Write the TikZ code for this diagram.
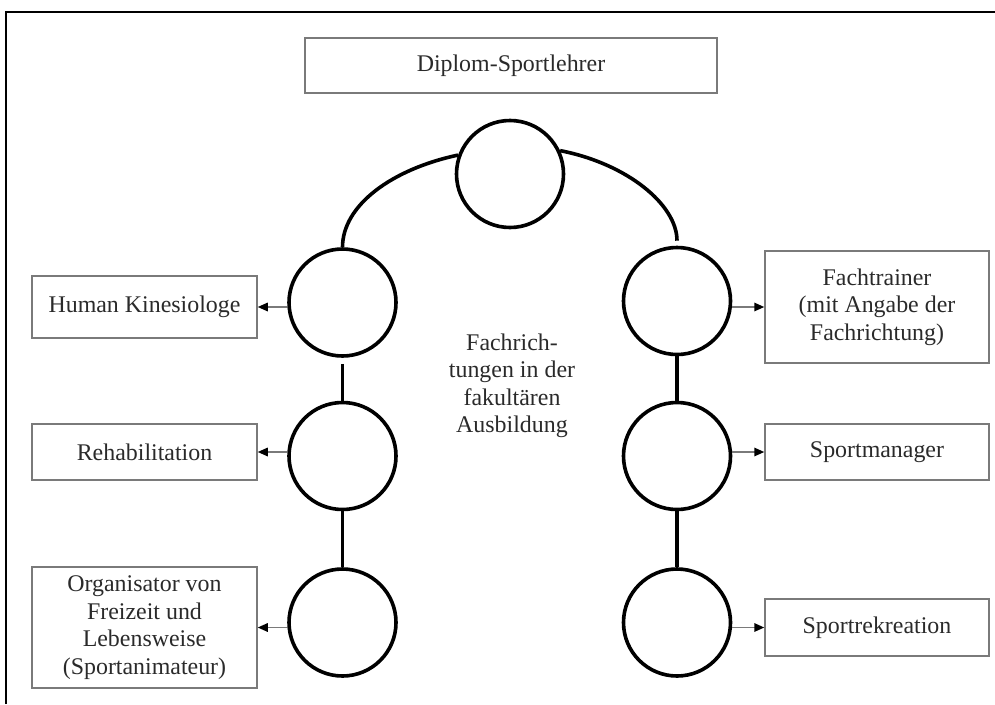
\documentclass[tikz,border=0pt]{standalone}
\usepackage{fontspec}
\setmainfont{Liberation Serif}
\usetikzlibrary{arrows.meta}
\definecolor{boxgray}{HTML}{7A7A7A}
\definecolor{inkgray}{HTML}{2A2A2A}
\tikzset{
  ring/.style={circle, draw=black, line width=3.6pt, minimum size=107pt, inner sep=0pt},
  label box/.style={draw=boxgray, line width=1.5pt, align=center, inner sep=2pt,
                    text=inkgray, font=\fontsize{23.9}{27.5}\selectfont},
  link/.style={line width=3.6pt, draw=black},
  outarrow/.style={draw=boxgray, line width=1.6pt,
                   -{Triangle[length=10pt, width=8.5pt, color=black]}},
}
\begin{document}
\begin{tikzpicture}[x=1pt, y=-1pt]
  \useasboundingbox (0,0) rectangle (995,704);
  % page frame (left and top edges)
  \draw[line width=2.5pt] (6,704) -- (6,12) -- (995,12);

  % title
  \node[label box, minimum width=412pt, minimum height=55pt] (title) at (511,65.5) {Diplom-Sportlehrer};

  % chain of rings
  \node[ring] (T)  at (510,174) {};
  \node[ring] (L1) at (342.5,302.5) {};
  \node[ring] (L2) at (342.5,456) {};
  \node[ring] (L3) at (342.5,622.5) {};
  \node[ring] (R1) at (677,301) {};
  \node[ring] (R2) at (677,456) {};
  \node[ring] (R3) at (677,622.5) {};

  \draw[link] (L1.north) .. controls +(0,-42) and +(-66,14) .. (T.160);
  \draw[link, shorten >=5pt] (T.25) .. controls +(67,13) and +(0,-41) .. (R1.north);
  \draw[link, shorten <=6pt] (L1.south) -- (L2.north);
  \draw[link] (L2.south) -- (L3.north);
  \draw[link] (R1.south) -- (R2.north);
  \draw[link] (R2.south) -- (R3.north);

  % centre label
  \node[align=center, text=inkgray, font=\fontsize{23.9}{27.5}\selectfont] (centre) at (512,386)
    {Fachrich-\\tungen in der\\fakultären\\Ausbildung};

  % left outcomes
  \node[label box, minimum width=225pt, minimum height=62pt] (hk) at (144.5,307) {Human Kinesiologe};
  \node[label box, minimum width=225pt, minimum height=56pt] (reha) at (144.5,452) {Rehabilitation};
  \node[label box, minimum width=225pt, minimum height=121pt] (org) at (144.5,627.5)
    {Organisator von\\Freizeit und\\Lebensweise\\(Sportanimateur)};

  % right outcomes
  \node[label box, minimum width=224pt, minimum height=112pt] (fach) at (877,307)
    {Fachtrainer\\(mit Angabe der\\Fachrichtung)};
  \node[label box, minimum width=224pt, minimum height=56pt] (sm) at (877,452) {Sportmanager};
  \node[label box, minimum width=224pt, minimum height=57pt] (sr) at (877,627.5) {Sportrekreation};

  % arrows from rings to outcomes
  \draw[outarrow] (hk.east -| L1.west) -- (hk.east);
  \draw[outarrow] (reha.east -| L2.west) -- (reha.east);
  \draw[outarrow] (org.east -| L3.west) -- (org.east);
  \draw[outarrow] (fach.west -| R1.east) -- (fach.west);
  \draw[outarrow] (sm.west -| R2.east) -- (sm.west);
  \draw[outarrow] (sr.west -| R3.east) -- (sr.west);
\end{tikzpicture}
\end{document}
